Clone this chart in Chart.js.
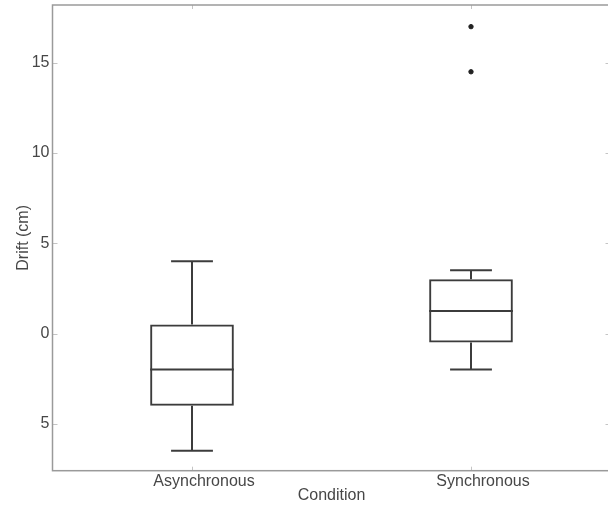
<!DOCTYPE html>
<html lang="en">
<head>
    <meta charset="UTF-8">
    <title>Drift by Condition</title>
    <script src="https://cdn.jsdelivr.net/npm/chart.js"></script>
    <style>
        * { margin: 0; padding: 0; box-sizing: border-box; }
        body { background: #fff; }
        /* clip box: the chart is a bit wider, so its right frame falls just off the picture */
        .clip { position: relative; width: 608px; height: 505px; overflow: hidden; }
        .chart-wrap { position: absolute; left: 0; top: 0; width: 612px; height: 505px; }
    </style>
</head>
<body>
    <div class="clip">
        <div class="chart-wrap">
            <canvas id="driftChart"></canvas>
        </div>
    </div>

    <script>
        // box plot values
        const categories = ['Asynchronous', 'Synchronous'];
        const whiskerLow = [-6.5, -2];
        const q1 = [-4, -0.5];
        const median = [-2, 1.25];
        const q3 = [0.5, 3];
        const whiskerHigh = [4, 3.5];
        const outlierCategory = ['Synchronous', 'Synchronous'];
        const outlierValue = [17, 14.5];

        const yTickValues = [-5, 0, 5, 10, 15];
        const yTickLabels = ['5', '0', '5', '10', '15'];

        const lineColor = '#3c3c3c';
        const textColor = '#474747';
        const font = { family: '"Liberation Sans", Arial, sans-serif', size: 16 };

        // median, whiskers and caps, placed with the chart's own scales
        const boxParts = {
            id: 'boxParts',
            afterDatasetsDraw(chart) {
                const { ctx, scales: { y } } = chart;
                const bars = chart.getDatasetMeta(0).data;
                const seg = (x1, y1, x2, y2) => {
                    ctx.beginPath();
                    ctx.moveTo(x1, y1);
                    ctx.lineTo(x2, y2);
                    ctx.stroke();
                };
                ctx.save();
                ctx.strokeStyle = lineColor;
                ctx.lineWidth = 2;
                bars.forEach((bar, i) => {
                    const cx = bar.x, half = bar.width / 2, cap = bar.width / 4;
                    const pMed = y.getPixelForValue(median[i]);
                    const pHi = y.getPixelForValue(whiskerHigh[i]);
                    const pLo = y.getPixelForValue(whiskerLow[i]);
                    seg(cx - half, pMed, cx + half, pMed);
                    seg(cx, y.getPixelForValue(q3[i]), cx, pHi);
                    seg(cx, y.getPixelForValue(q1[i]), cx, pLo);
                    seg(cx - cap, pHi, cx + cap, pHi);
                    seg(cx - cap, pLo, cx + cap, pLo);
                });
                ctx.restore();
            }
        };

        // box frame with small inward ticks on all four sides
        const frame = {
            id: 'frame',
            afterDraw(chart) {
                const { ctx, chartArea: a, scales: { x, y } } = chart;
                ctx.save();
                ctx.strokeStyle = '#c4c4c4';
                ctx.lineWidth = 1;
                y.ticks.forEach((t, i) => {
                    const py = Math.round(y.getPixelForTick(i)) + 0.5;
                    ctx.beginPath();
                    ctx.moveTo(a.left, py); ctx.lineTo(a.left + 5, py);
                    ctx.moveTo(a.right, py); ctx.lineTo(a.right - 5, py);
                    ctx.stroke();
                });
                x.ticks.forEach((t, i) => {
                    const px = Math.round(x.getPixelForTick(i)) + 0.5;
                    ctx.beginPath();
                    ctx.moveTo(px, a.top); ctx.lineTo(px, a.top + 4);
                    ctx.moveTo(px, a.bottom); ctx.lineTo(px, a.bottom - 4);
                    ctx.stroke();
                });
                ctx.strokeStyle = '#9a9a9a';
                ctx.lineWidth = 1.5;
                ctx.strokeRect(a.left, a.top, a.right - a.left, a.bottom - a.top);
                ctx.restore();
            }
        };

        new Chart(document.getElementById('driftChart'), {
            type: 'bar',
            data: {
                labels: categories,
                datasets: [
                    {
                        label: 'Box',
                        data: categories.map((c, i) => [q1[i], q3[i]]),
                        backgroundColor: 'rgba(0,0,0,0)',
                        borderColor: lineColor,
                        borderWidth: 2,
                        borderSkipped: false,
                        barPercentage: 0.3,
                        categoryPercentage: 1.0
                    },
                    {
                        type: 'line',
                        label: 'Outliers',
                        data: outlierValue.map((v, i) => ({ x: outlierCategory[i], y: v })),
                        showLine: false,
                        pointRadius: 2.2,
                        pointBackgroundColor: '#222',
                        pointBorderColor: '#222',
                        pointBorderWidth: 1
                    }
                ]
            },
            options: {
                responsive: true,
                maintainAspectRatio: false,
                animation: false,
                layout: { autoPadding: false, padding: { top: 5, right: 1.5, left: 0, bottom: 0 } },
                plugins: { legend: { display: false }, tooltip: { enabled: false } },
                scales: {
                    x: {
                        offset: true,
                        grid: { display: false, drawTicks: false },
                        border: { display: false },
                        ticks: { color: textColor, font: font, padding: 1, labelOffset: 12, maxRotation: 0 },
                        title: { display: true, text: 'Condition', color: textColor, font: font, padding: { top: 0, bottom: 0 } },
                        afterFit(scale) {
                            scale.height = 34.3;
                            scale.paddingLeft = 0;
                            scale.paddingRight = 0;
                        }
                    },
                    y: {
                        min: -7.6,
                        max: 18.2,
                        grid: { display: false, drawTicks: false },
                        border: { display: false },
                        afterBuildTicks(scale) { scale.ticks = yTickValues.map(v => ({ value: v })); },
                        ticks: {
                            color: textColor,
                            font: font,
                            padding: 3,
                            callback: v => yTickLabels[yTickValues.indexOf(v)]
                        },
                        title: { display: true, text: 'Drift (cm)', color: textColor, font: font, padding: { top: 14, bottom: 0 } },
                        afterFit(scale) {
                            scale.width = 52.5;
                            scale.paddingTop = 0;
                            scale.paddingBottom = 0;
                        }
                    }
                }
            },
            plugins: [boxParts, frame]
        });
    </script>
</body>
</html>
